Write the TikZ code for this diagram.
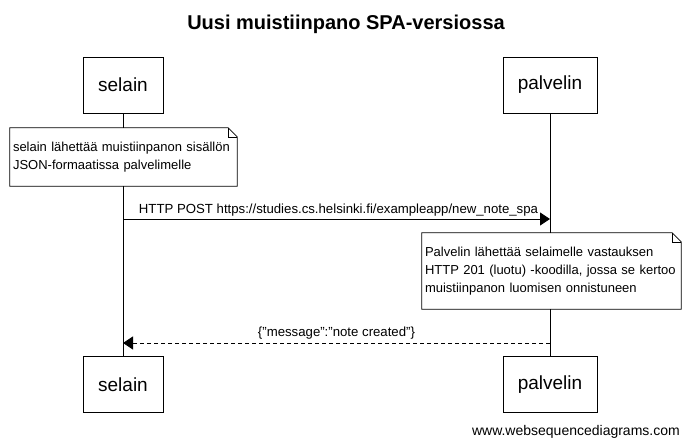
\documentclass[tikz,border=0pt]{standalone}
\usepackage{fontspec}
\setmainfont{Liberation Sans}
\usetikzlibrary{arrows.meta,calc,positioning}

\begin{document}
\begin{tikzpicture}[
  x=1pt, y=1pt,
  actor/.style={draw=black, fill=white, minimum height=56pt, inner sep=0pt,
                font=\fontsize{19}{22}\selectfont},
  memo/.style={fill=white, inner xsep=3pt, inner ysep=0pt, align=left,
               font=\fontsize{13}{18}\selectfont},
  lifeline/.style={draw=black, line width=0.8pt},
  msg/.style={-{Triangle[length=10pt, width=13pt]}, line width=0.8pt},
  reply/.style={msg, dash pattern=on 4pt off 3pt},
  msglabel/.style={font=\fontsize{13.2}{15}\selectfont, inner sep=2pt},
]
  \useasboundingbox (0,0) rectangle (689,-447);

  % Title -------------------------------------------------------------------
  \node[font=\bfseries\fontsize{20}{24}\selectfont] (title) at (346,-24) {Uusi muistiinpano SPA-versiossa};

  % Participants ------------------------------------------------------------
  \node[actor, minimum width=80pt] (selaintop) at (123,-85) {selain};
  \node[actor, minimum width=94pt] (palvelintop) at (550,-85) {palvelin};
  \node[actor, minimum width=80pt] (selainbot) at (123,-384.5) {selain};
  \node[actor, minimum width=94pt] (palvelinbot) at (550,-384.5) {palvelin};
  \draw[lifeline] (selaintop) -- (selainbot);
  \draw[lifeline] (palvelintop) -- (palvelinbot);

  % Note 1 ------------------------------------------------------------------
  \node[memo, text width=221pt, minimum height=58pt] (note1) at (123.5,-157)
    {selain lähettää muistiinpanon sisällön\\JSON-formaatissa palvelimelle};
  \draw[line width=0.8pt] (note1.north west) -- ($(note1.north east)+(-9,0)$)
    -- ($(note1.north east)+(0,-9)$) -- (note1.south east) -- (note1.south west) -- cycle;
  \draw[line width=0.6pt] ($(note1.north east)+(-9,0)$) |- ($(note1.north east)+(0,-9)$);

  % POST request ------------------------------------------------------------
  \coordinate (posta) at (selaintop |- 0,-219);
  \coordinate (postb) at (palvelintop |- 0,-219);
  \draw[msg] (posta) -- node[above, msglabel, xshift=2pt] {HTTP POST https://studies.cs.helsinki.fi/exampleapp/new\_note\_spa} (postb);

  % Note 2 ------------------------------------------------------------------
  \node[memo, text width=253pt, minimum height=76pt] (note2) at (551.5,-271)
    {Palvelin lähettää selaimelle vastauksen\\HTTP 201 (luotu) -koodilla, jossa se kertoo\\muistiinpanon luomisen onnistuneen};
  \draw[line width=0.8pt] (note2.north west) -- ($(note2.north east)+(-9,0)$)
    -- ($(note2.north east)+(0,-9)$) -- (note2.south east) -- (note2.south west) -- cycle;
  \draw[line width=0.6pt] ($(note2.north east)+(-9,0)$) |- ($(note2.north east)+(0,-9)$);

  % Response ----------------------------------------------------------------
  \coordinate (respa) at (palvelintop |- 0,-343);
  \coordinate (respb) at (selaintop |- 0,-343);
  \draw[reply] (respa) -- node[above, msglabel, inner sep=3pt] {\{"message":"note created"\}} (respb);

  % Watermark ---------------------------------------------------------------
  \node[anchor=east, font=\fontsize{14}{16}\selectfont, inner sep=0pt] (wsd) at (680,-432) {www.websequencediagrams.com};
\end{tikzpicture}
\end{document}
